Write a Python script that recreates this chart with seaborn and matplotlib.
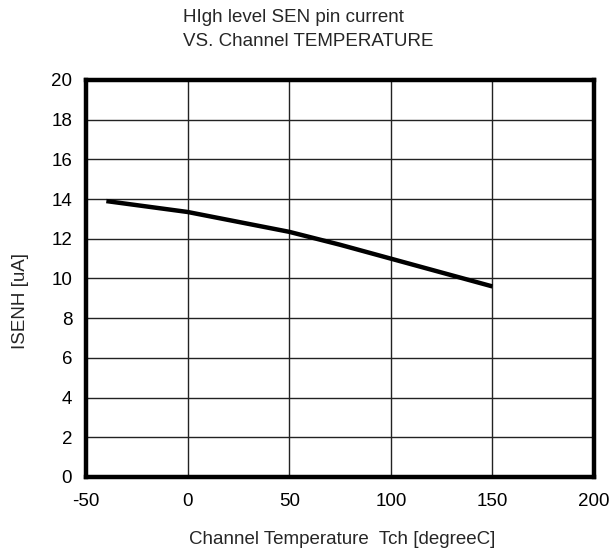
import numpy as np
import pandas as pd
import matplotlib
matplotlib.use("Agg")
import matplotlib.pyplot as plt
import seaborn as sns

# data
temp_c = [-40, 0, 25, 50, 75, 100, 125, 150]
isenh_ua = [13.9, 13.35, 12.85, 12.35, 11.7, 11.0, 10.3, 9.6]

x_ticks = [-50, 0, 50, 100, 150, 200]
y_ticks = [0, 2, 4, 6, 8, 10, 12, 14, 16, 18, 20]

df = pd.DataFrame({"temp": temp_c, "isenh": isenh_ua})

sns.set_style("white")
plt.rcParams["font.family"] = ["Liberation Sans", "DejaVu Sans"]
plt.rcParams["axes.unicode_minus"] = False

fig = plt.figure(figsize=(6.11, 5.52), dpi=100)
ax = fig.add_axes([0.1408, 0.1359, 0.8314, 0.7192])

sns.lineplot(data=df, x="temp", y="isenh", ax=ax, color="black", linewidth=3.2,
             solid_capstyle="butt")

ax.set_xlim(-50, 200)
ax.set_ylim(0, 20)
ax.set_xticks(x_ticks)
ax.set_yticks(y_ticks)
ax.set_xticklabels([str(t) for t in x_ticks])
ax.grid(True, color="#222222", linewidth=1.0)
ax.set_axisbelow(True)
for s in ax.spines.values():
    s.set_visible(True)
    s.set_color("black")
    s.set_linewidth(3.2)
ax.tick_params(axis="both", length=0, labelsize=13.5, colors="black")
ax.tick_params(axis="y", pad=10)
ax.tick_params(axis="x", pad=11.5)
ax.set_xlabel("")
ax.set_ylabel("")

fs = 13.5
fig.text(183 / 611, 1 - 17 / 552, "HIgh level SEN pin current",
         ha="left", va="center", fontsize=fs)
fig.text(183 / 611, 1 - 41.5 / 552, "VS. Channel TEMPERATURE",
         ha="left", va="center", fontsize=fs)
fig.text(189 / 611, 1 - 539 / 552, "Channel Temperature  Tch [degreeC]",
         ha="left", va="center", fontsize=fs)
fig.text(20.5 / 611, 1 - 301 / 552, "ISENH [uA]", rotation=90,
         ha="center", va="center", fontsize=fs)

fig.savefig("out.png", dpi=100)
